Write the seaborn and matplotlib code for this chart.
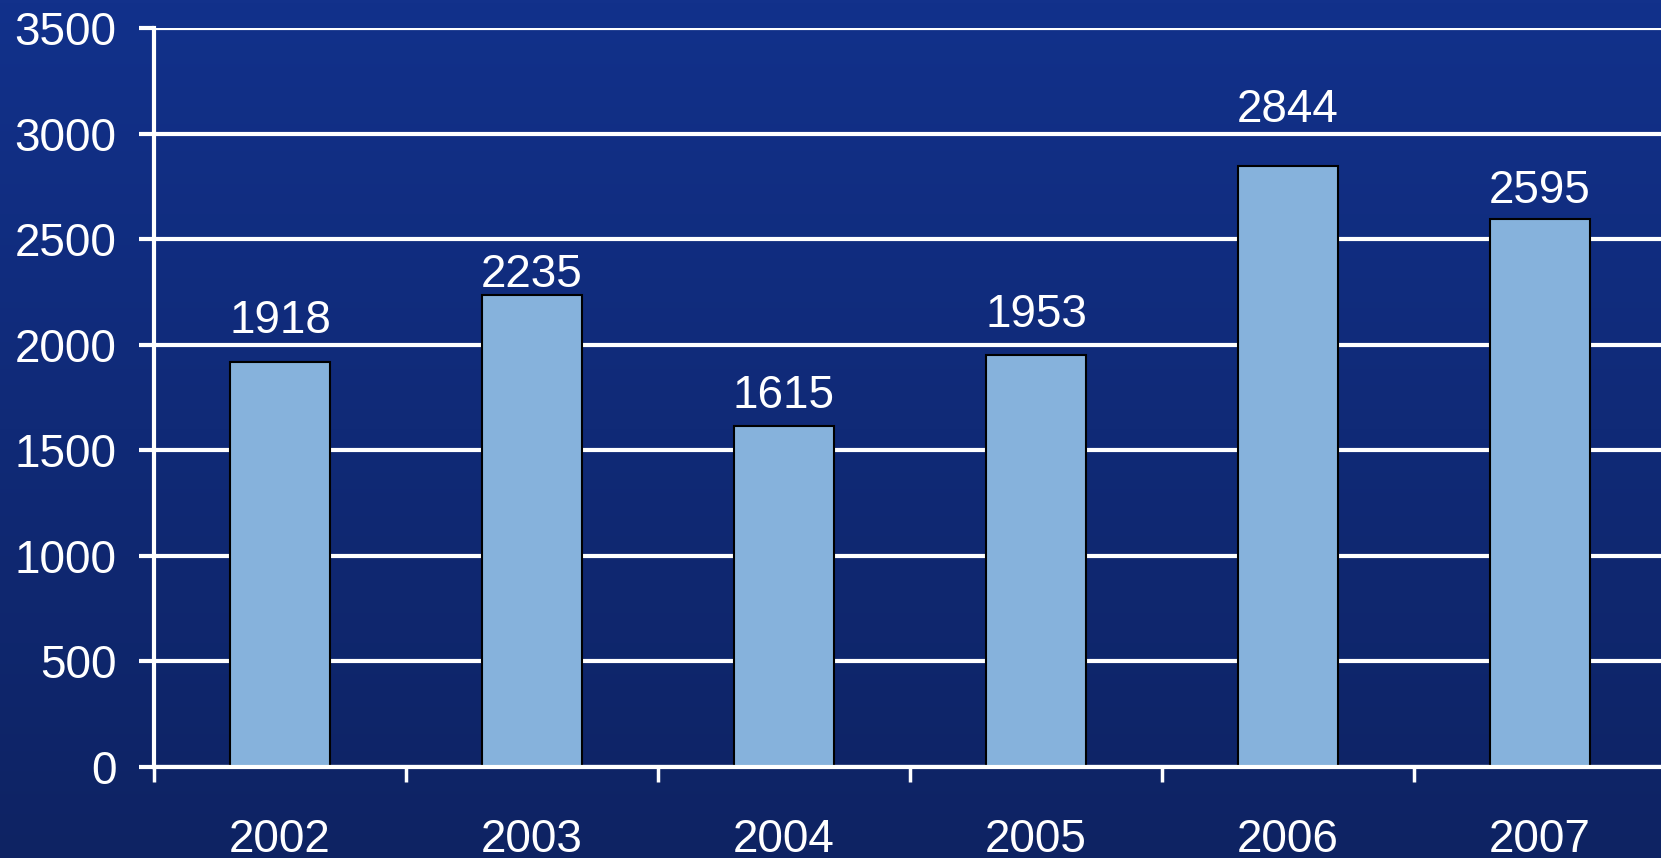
import numpy as np
import pandas as pd
import seaborn as sns
import matplotlib.pyplot as plt
from matplotlib.colors import LinearSegmentedColormap

# dados
anos = ["2002", "2003", "2004", "2005", "2006", "2007"]
valores = [1918, 2235, 1615, 1953, 2844, 2595]
yticks = [0, 500, 1000, 1500, 2000, 2500, 3000, 3500]

# deslocamento vertical dos rótulos (pt), posto à mão no original
desloc = [21, 6, 13, 20, 32, 11.5]

df = pd.DataFrame({"ano": anos, "valor": valores})

sns.set_theme(style="white")
plt.rcParams['font.family'] = ['Liberation Sans', 'DejaVu Sans']

fig = plt.figure(figsize=(16.61, 8.58), dpi=100)

# fundo com degradê azul
bg = fig.add_axes([0, 0, 1, 1], zorder=0)
grad = np.linspace(0, 1, 256).reshape(-1, 1)
cmap = LinearSegmentedColormap.from_list("fundo", ["#12318b", "#0e2363"])
bg.imshow(grad, aspect="auto", cmap=cmap, extent=[0, 1, 0, 1])
bg.set_axis_off()

ax = fig.add_axes([0.0927, 0.1061, 0.9103, 0.8613], zorder=1)
ax.patch.set_alpha(0)

sns.barplot(data=df, x="ano", y="valor", color="#86b2dc", width=0.4,
            edgecolor="black", linewidth=1.5, saturation=1, ax=ax, zorder=3)

ax.set_ylim(0, 3500)
ax.set_xlim(-0.5, 5.5)
ax.set_yticks(yticks)
ax.yaxis.grid(True, color="white", linewidth=3, zorder=0)
ax.set_axisbelow(True)

for s in ["top", "right"]:
    ax.spines[s].set_visible(False)
for s in ["left", "bottom"]:
    ax.spines[s].set_color("white")
    ax.spines[s].set_linewidth(3)
    ax.spines[s].set_zorder(4)

# ticks entre as categorias
ax.set_xticks(np.arange(-0.5, 6, 1), minor=True)
ax.tick_params(axis="x", which="minor", length=11, width=2.5, color="white", direction="out", bottom=True)
ax.tick_params(axis="x", which="major", length=0, pad=37, labelsize=33, labelcolor="white")
ax.tick_params(axis="y", which="major", length=11, width=3, color="white", direction="out",
               pad=16, labelsize=33, labelcolor="white", left=True)

ax.set_xlabel("")
ax.set_ylabel("")

# rótulos de valor sobre as barras
for barra, v, d in zip(ax.patches, valores, desloc):
    ax.annotate(str(v), (barra.get_x() + barra.get_width() / 2, barra.get_height()),
                xytext=(0, d), textcoords="offset points", ha="center", va="baseline",
                fontsize=33, color="white")

fig.savefig("out.png", dpi=100)
